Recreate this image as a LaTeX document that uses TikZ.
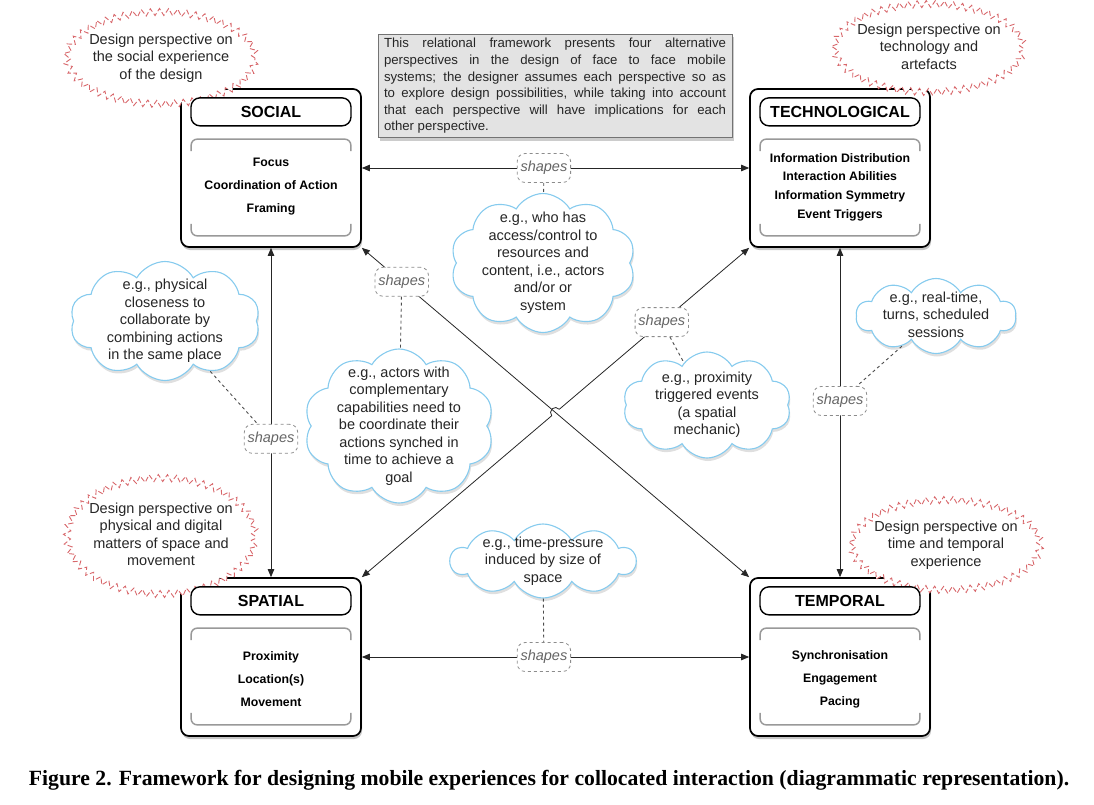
\documentclass[tikz,border=0pt]{standalone}
\usepackage{fontspec}
\setmainfont{Liberation Sans}
\newfontfamily\figfont{Liberation Serif}
\usetikzlibrary{positioning,calc,shapes.geometric,shapes.symbols,shadows}
\usetikzlibrary{decorations.pathmorphing}
\usetikzlibrary{arrows.meta}

\definecolor{puffblue}{HTML}{86CBEE}
\definecolor{burstred}{HTML}{D8676B}
\definecolor{notefill}{HTML}{E3E3E3}

% text that does not size its node
\newcommand{\freetext}[1]{\makebox[0pt]{\smash{\raisebox{-.25em}{\begin{tabular}{@{}c@{}}#1\end{tabular}}}}}

\tikzset{
  pbox/.style={draw, line width=1.7pt, rounded corners=8pt, fill=white, minimum width=180pt, minimum height=158pt,
    drop shadow={shadow xshift=1pt, shadow yshift=-3pt, opacity=.45}},
  ptitle/.style={draw, line width=1.4pt, rounded corners=9pt, fill=white, minimum width=160pt, minimum height=28pt,
    font=\fontsize{16}{18}\selectfont\bfseries},
  plist/.style={align=center, font=\fontsize{12.3}{23}\selectfont\bfseries},
  innerframe/.style={draw=black!40, line width=1.5pt, rounded corners=6pt},
  viewcloud/.style={ellipse, draw=burstred, fill=white, line width=.9pt, dash pattern=on 5pt off 2.5pt,
    decorate, decoration={zigzag, segment length=9pt, amplitude=3.5pt}, inner sep=0pt,
    font=\fontsize{14.5}{17.5}\selectfont, text=black!85},
  egcloud/.style={cloud, cloud puffs=10, cloud puff arc=120, cloud ignores aspect, draw=puffblue, line width=1.1pt,
    fill=white, inner sep=0pt, font=\fontsize{14.5}{17.5}\selectfont, text=black!85,
    drop shadow={shadow xshift=1pt, shadow yshift=-3pt, opacity=.25}},
  shapesbox/.style={draw=black!45, dashed, line width=.8pt, rounded corners=8pt, fill=white, minimum height=29pt,
    font=\fontsize{14.5}{17}\selectfont\itshape, text=black!60},
  relation/.style={{Triangle[length=8pt,width=6.5pt]}-{Triangle[length=8pt,width=6.5pt]}, line width=.8pt, black!85},
  tieline/.style={dashed, line width=.9pt, black!70},
  framenote/.style={draw=black!55, line width=1pt, fill=notefill, text width=342pt, inner xsep=6pt, inner ysep=4pt,
    align=justify, font=\fontsize{13.2}{16.6}\selectfont, text=black!85,
    drop shadow={shadow xshift=2pt, shadow yshift=-3pt, opacity=.4}}
}

\begin{document}
\begin{tikzpicture}[x=1pt, y=1pt]
\useasboundingbox (0,0) rectangle (1094,-805);

% the four perspectives
\node[pbox] (social) at (271,-168) {};
\node[pbox] (techno) at (840,-168) {};
\node[pbox] (spatial) at (271,-657) {};
\node[pbox] (temporal) at (840,-657) {};

% design perspective bursts
\node[viewcloud, minimum width=188pt, minimum height=92pt] (socialView) at (161,-58)
  {\freetext{Design perspective on\\the social experience\\of the design}};
\node[viewcloud, minimum width=188pt, minimum height=88pt] (technoView) at (929,-48)
  {\freetext{Design perspective on\\technology and\\artefacts}};
\node[viewcloud, minimum width=188pt, minimum height=116pt] (spatialView) at (161,-536)
  {\freetext{Design perspective on\\physical and digital\\matters of space and\\movement}};
\node[viewcloud, minimum width=188pt, minimum height=90pt] (temporalView) at (946,-545)
  {\freetext{Design perspective on\\time and temporal\\experience}};

\foreach \p/\t in {social/SOCIAL, techno/TECHNOLOGICAL, spatial/SPATIAL, temporal/TEMPORAL}{
  \node[ptitle, below=9pt of \p.north] (\p-title) {\t};
  \draw[innerframe] ([xshift=11pt,yshift=-63pt]\p.north west) |- ([yshift=-51pt]\p.north)
    -| ([xshift=-11pt,yshift=-63pt]\p.north east);
  \draw[innerframe] ([xshift=11pt,yshift=24pt]\p.south west) |- ([yshift=12pt]\p.south)
    -| ([xshift=-11pt,yshift=24pt]\p.south east);
}

\node[plist, yshift=-19pt] (social-list) at (social) {Focus\\Coordination of Action\\Framing};
\node[plist, yshift=-19pt, font=\fontsize{12.3}{18.7}\selectfont\bfseries] (techno-list) at (techno)
  {Information Distribution\\Interaction Abilities\\Information Symmetry\\Event Triggers};
\node[plist, yshift=-22pt] (spatial-list) at (spatial) {Proximity\\Location(s)\\Movement};
\node[plist, yshift=-22pt] (temporal-list) at (temporal) {Synchronisation\\Engagement\\Pacing};

% the framework note
\node[framenote] (intro) at (555,-86) {This relational framework presents four alternative\linebreak
  perspectives in the design of face to face mobile\linebreak
  systems; the designer assumes each perspective so as\linebreak
  to explore design possibilities, while taking into account\linebreak
  that each perspective will have implications for each\linebreak
  other perspective.};

% relations between perspectives
\draw[relation] (social) -- node[shapesbox, pos=.47] (shpTop) {shapes} (techno);
\draw[relation] (spatial) -- node[shapesbox, pos=.47] (shpBottom) {shapes} (temporal);
\draw[relation] (social) -- node[shapesbox, pos=.58] (shpLeft) {shapes} (spatial);
\draw[relation] (techno) -- node[shapesbox, pos=.465] (shpRight) {shapes} (temporal);
\draw[relation] (social.south east) -- node[shapesbox, pos=.103] (shpDiagA) {shapes} (temporal.north west);
\coordinate (cross) at (intersection of social.south east--temporal.north west and spatial.north east--techno.south west);
\draw[relation] (spatial.north east) -- ($(cross)!5pt!(spatial.north east)$)
  arc[start angle=220.4, end angle=40.4, radius=5pt]
  -- node[shapesbox, pos=.54] (shpDiagB) {shapes} (techno.south west);

% examples
\node[egcloud, minimum width=190pt, minimum height=119pt] (exClose) at (165,-321)
  {\freetext{e.g., physical\\closeness to\\collaborate by\\combining actions\\in the same place}};
\node[egcloud, minimum width=190pt, minimum height=154pt] (exActors) at (399,-426)
  {\freetext{e.g., actors with\\complementary\\capabilities need to\\be coordinate their\\actions synched in\\time to achieve a\\goal}};
\node[egcloud, minimum width=185pt, minimum height=139pt] (exAccess) at (543,-263)
  {\freetext{e.g., who has\\access/control to\\resources and\\content, i.e., actors\\and/or or\\system}};
\node[egcloud, minimum width=168pt, minimum height=106pt] (exTrigger) at (707,-405)
  {\freetext{e.g., proximity\\triggered events\\(a spatial\\mechanic)}};
\node[egcloud, minimum width=160pt, minimum height=75pt] (exTurns) at (936,-316)
  {\freetext{e.g., real-time,\\turns, scheduled\\sessions}};
\node[egcloud, minimum width=185pt, minimum height=74pt] (exPressure) at (543,-561)
  {\freetext{e.g., time-pressure\\induced by size of\\space}};

\draw[tieline] (shpTop) -- (exAccess);
\draw[tieline] (shpDiagA) -- (exActors);
\draw[tieline] (exClose) -- (shpLeft);
\draw[tieline] (shpDiagB) -- (exTrigger);
\draw[tieline] (exTurns) -- (shpRight);
\draw[tieline] (exPressure) -- (shpBottom);

\node[font=\figfont\bfseries\fontsize{21.7}{24}\selectfont] (caption) at (549,-780)
  {Figure 2. Framework for designing mobile experiences for collocated interaction (diagrammatic representation).};
\end{tikzpicture}
\end{document}
